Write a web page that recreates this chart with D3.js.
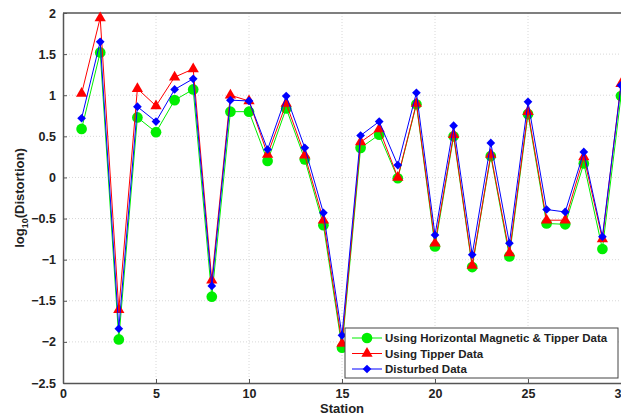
<!DOCTYPE html>
<html>
<head>
<meta charset="utf-8">
<script src="https://cdn.jsdelivr.net/npm/d3@7"></script>
<style>
  body { margin: 0; background: #fff; }
  svg text { font-family: "Liberation Sans", Arial, sans-serif; font-weight: bold; }
</style>
</head>
<body>
<div id="chart"></div>
<script>
// Data
const stations = d3.range(1, 31);
const hmTipper = [0.59, 1.52, -1.97, 0.73, 0.55, 0.94, 1.07, -1.45, 0.80, 0.80,
  0.20, 0.84, 0.22, -0.58, -2.07, 0.36, 0.52, -0.01, 0.89, -0.84,
  0.50, -1.09, 0.26, -0.96, 0.77, -0.56, -0.57, 0.17, -0.87, 0.99];
const tipper = [1.02, 1.94, -1.61, 1.08, 0.87, 1.22, 1.32, -1.25, 1.00, 0.93,
  0.28, 0.90, 0.27, -0.52, -2.02, 0.43, 0.59, 0.00, 0.90, -0.80,
  0.52, -1.07, 0.28, -0.92, 0.80, -0.52, -0.52, 0.25, -0.75, 1.14];
const disturbed = [0.72, 1.65, -1.84, 0.86, 0.68, 1.07, 1.20, -1.32, 0.94, 0.93,
  0.34, 0.99, 0.36, -0.43, -1.92, 0.51, 0.68, 0.15, 1.03, -0.70,
  0.63, -0.94, 0.42, -0.80, 0.92, -0.39, -0.42, 0.31, -0.72, 1.12];
const xTicks = [0, 5, 10, 15, 20, 25, 30];
const yTicks = [-2.5, -2, -1.5, -1, -0.5, 0, 0.5, 1, 1.5, 2];
const seriesNames = ["Using Horizontal Magnetic & Tipper Data", "Using Tipper Data", "Disturbed Data"];

const W = 621, H = 416;
const margin = { top: 13, right: 0, bottom: 33, left: 63 };

const svg = d3.select("#chart").append("svg")
  .attr("width", W).attr("height", H);

const x = d3.scaleLinear().domain([0, 30]).range([margin.left, W - margin.right]);
const y = d3.scaleLinear().domain([-2.5, 2]).range([H - margin.bottom, margin.top]);

// grid
const grid = svg.append("g");
grid.selectAll(".gx").data(xTicks.slice(1, -1)).join("line")
  .attr("x1", d => x(d)).attr("x2", d => x(d))
  .attr("y1", y(2)).attr("y2", y(-2.5))
  .attr("stroke", "#d8d8d8").attr("stroke-width", 1).attr("stroke-dasharray", "1,2");
grid.selectAll(".gy").data(yTicks.slice(1, -1)).join("line")
  .attr("x1", x(0)).attr("x2", x(30))
  .attr("y1", d => y(d)).attr("y2", d => y(d))
  .attr("stroke", "#d8d8d8").attr("stroke-width", 1).attr("stroke-dasharray", "1,2");

// axes
const xAxis = svg.append("g")
  .attr("transform", `translate(0,${y(-2.5)})`)
  .call(d3.axisBottom(x).tickValues(xTicks).tickSizeInner(-4).tickSizeOuter(0).tickPadding(6));
const yAxis = svg.append("g")
  .attr("transform", `translate(${x(0)},0)`)
  .call(d3.axisLeft(y).tickValues(yTicks).tickSizeInner(-4).tickSizeOuter(0).tickPadding(7).tickFormat(d3.format("")));
[xAxis, yAxis].forEach(a => {
  a.select(".domain").attr("stroke", "#555").attr("stroke-width", 1.5);
  a.selectAll(".tick line").attr("stroke", "#555");
  a.selectAll("text").attr("font-size", 12.5).attr("fill", "#222")
    .style("font-family", "'Liberation Sans', Arial, sans-serif").style("font-weight", "bold");
});
// top border
svg.append("line")
  .attr("x1", x(0)).attr("x2", x(30)).attr("y1", y(2)).attr("y2", y(2))
  .attr("stroke", "#555").attr("stroke-width", 1.5);

// axis titles
svg.append("text")
  .attr("x", x(15)).attr("y", 413)
  .attr("text-anchor", "middle").attr("font-size", 13).attr("fill", "#222")
  .text("Station");
const yl = svg.append("text")
  .attr("transform", `translate(24,${y(-0.25)}) rotate(-90)`)
  .attr("text-anchor", "middle").attr("font-size", 13).attr("fill", "#222");
yl.append("tspan").text("log");
yl.append("tspan").attr("font-size", 9).attr("dy", 4).text("10");
yl.append("tspan").attr("dy", -4).text("(Distortion)");

// series
const series = [
  { name: seriesNames[0], values: hmTipper, color: "#00ee00", shape: d3.symbolCircle, size: 90, rot: 0 },
  { name: seriesNames[1], values: tipper, color: "#ff0000", shape: d3.symbolTriangle, size: 55, rot: 0 },
  { name: seriesNames[2], values: disturbed, color: "#0000ff", shape: d3.symbolSquare, size: 38, rot: 45 }
];

const line = d3.line().x((d, i) => x(stations[i])).y(d => y(d));

const plot = svg.append("g");
series.forEach(s => {
  const g = plot.append("g");
  g.append("path")
    .datum(s.values)
    .attr("d", line)
    .attr("fill", "none")
    .attr("stroke", s.color)
    .attr("stroke-width", 1);
  g.selectAll("path.m").data(s.values).join("path")
    .attr("class", "m")
    .attr("transform", (d, i) => `translate(${x(stations[i])},${y(d)}) rotate(${s.rot})`)
    .attr("d", d3.symbol().type(s.shape).size(s.size))
    .attr("fill", s.color);
});

// legend
const lg = svg.append("g").attr("transform", "translate(345,328)");
lg.append("rect")
  .attr("width", 273).attr("height", 50)
  .attr("fill", "#fff").attr("stroke", "#444").attr("stroke-width", 1);
series.forEach((s, i) => {
  const row = lg.append("g").attr("transform", `translate(0,${10 + i * 15.5})`);
  row.append("line").attr("x1", 7).attr("x2", 37).attr("stroke", s.color).attr("stroke-width", 1);
  row.append("path").attr("transform", `translate(22,0) rotate(${s.rot})`)
    .attr("d", d3.symbol().type(s.shape).size(s.size)).attr("fill", s.color);
  row.append("text").attr("x", 40).attr("dy", "0.35em")
    .attr("font-size", 11.5).attr("fill", "#222").text(s.name);
});
</script>
</body>
</html>
